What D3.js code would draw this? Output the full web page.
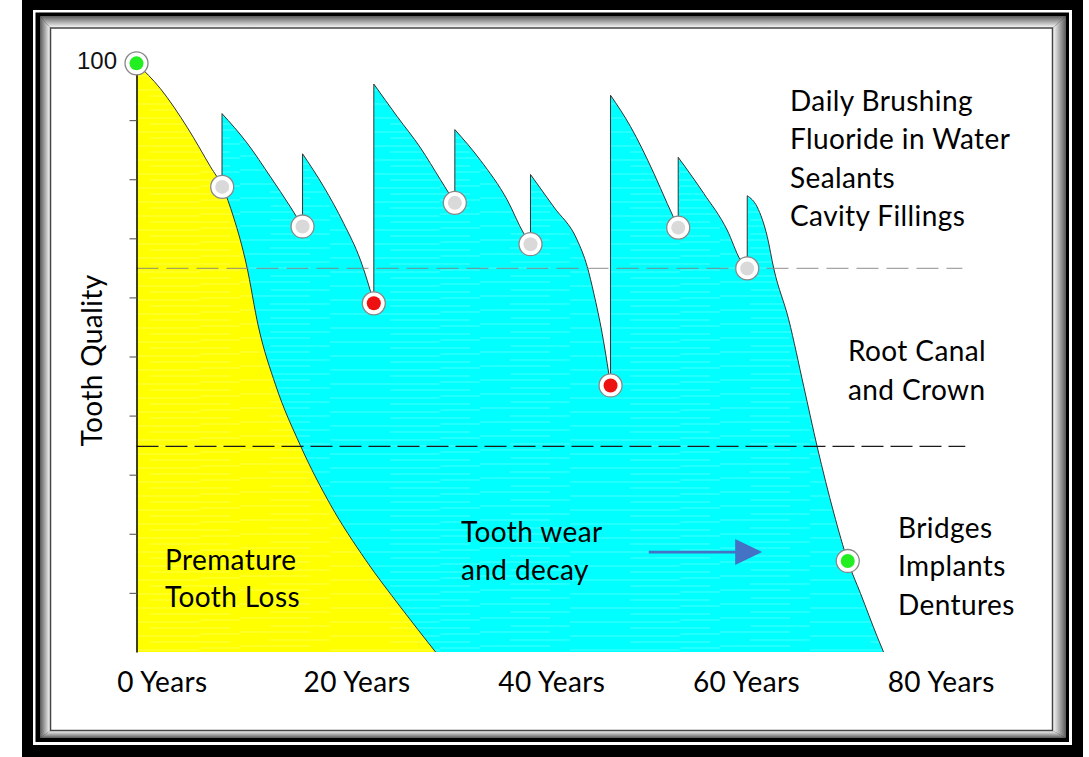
<!DOCTYPE html>
<html><head><meta charset="utf-8">
<script src="https://cdn.jsdelivr.net/npm/d3@7"></script>
<style>html,body{margin:0;padding:0;background:#fff;}svg{display:block;}</style>
</head><body>
<svg id="c" width="1089" height="757"></svg>
<script>
// ---------- data ----------
const yearTicks = [0, 20, 40, 60, 80];
const yearLabels = ["0 Years", "20 Years", "40 Years", "60 Years", "80 Years"];
const qualityTicks = [10, 20, 30, 40, 50, 60, 70, 80, 90, 100];

// premature tooth loss curve (yellow)
const lossYears   = [0, 2.46, 5.23, 7.59, 8.82, 9.95, 11.28, 12.51, 14.26, 16.82, 19.9, 23.49, 27.08, 30.67];
const lossQuality = [99.6, 95.3, 88.7, 82.1, 78.7, 73.6, 65.5, 55.0, 45.2, 34.9, 24.9, 15.6, 7.6, 0];

// tooth wear and decay (cyan) - each tooth: from restored top down to next treatment
const teethYears = [
  [8.77, 11.35, 13.74, 15.79, 17.03],
  [17.03, 19.21, 21.26, 22.97, 23.66, 24.34],
  [24.34, 26.74, 29.13, 31.18, 32.65],
  [32.65, 35.28, 38.02, 39.72, 40.41],
  [40.41, 42.8, 45.2, 46.23, 46.9, 47.76, 48.28, 48.62],
  [48.62, 50.67, 53.06, 54.43, 55.56],
  [55.56, 58.18, 60.58, 61.95, 62.64],
  [62.64, 63.66, 64.69, 65.36, 66.9, 68.44, 69.82, 71.52, 72.95, 74.26, 75.97, 76.62]
];
const teethQuality = [
  [91.1, 86.1, 80.4, 75.3, 72.0],
  [84.3, 78.7, 72.5, 66.3, 62.9, 59.0],
  [96.1, 90.6, 85.3, 79.9, 76.0],
  [88.4, 83.2, 76.5, 70.8, 69.0],
  [80.8, 75.3, 69.7, 65.2, 60.7, 53.9, 48.8, 45.1],
  [94.2, 88.9, 81.0, 75.9, 71.8],
  [83.7, 77.6, 71.4, 66.3, 64.9],
  [77.2, 75.3, 70.3, 64.9, 56.2, 44.9, 34.7, 23.5, 15.4, 9.9, 2.6, 0]
];

// event markers
const markerYears   = [0, 8.79, 17.03, 24.34, 32.65, 40.41, 48.62, 55.56, 62.64, 72.95];
const markerQuality = [99.6, 78.7, 72.0, 59.0, 76.0, 69.0, 45.1, 71.8, 64.9, 15.4];
const markerKinds   = ["good", "check", "check", "treat", "check", "check", "treat", "check", "check", "good"];

// thresholds (dashed lines)
const fillingThreshold = 64.9;
const crownThreshold = 34.8;
const thresholdEndYear = [84.7, 85.0];

// arrow (years, quality)
const arrowYears = [52.54, 64.17];
const arrowQuality = 16.9;

const textTreatments = ["Daily Brushing", "Fluoride in Water", "Sealants", "Cavity Fillings"];
const textCrown = ["Root Canal", "and Crown"];
const textReplace = ["Bridges", "Implants", "Dentures"];
const textLoss = ["Premature", "Tooth Loss"];
const textWear = ["Tooth wear", "and decay"];

// ---------- drawing ----------
const svg = d3.select("#c");
const FONT = "Lato, 'Open Sans', sans-serif";
const FS = 28, LS = 0.4;

// frame
const defs = svg.append("defs");
function grad(id, x1, y1, x2, y2, c1, c2) {
  const g = defs.append("linearGradient").attr("id", id)
    .attr("x1", x1).attr("y1", y1).attr("x2", x2).attr("y2", y2);
  g.append("stop").attr("offset", "0%").attr("stop-color", c1);
  g.append("stop").attr("offset", "100%").attr("stop-color", c2);
}
grad("gTop", 0, 0, 0, 1, "#5a5a5a", "#ffffff");
grad("gLeft", 0, 0, 1, 0, "#5a5a5a", "#ffffff");
grad("gRight", 0, 0, 1, 0, "#ffffff", "#5a5a5a");
grad("gBot", 0, 0, 0, 1, "#ffffff", "#5a5a5a");

svg.append("rect").attr("x", 22).attr("y", -10).attr("width", 1061).attr("height", 780).attr("fill", "#000");
svg.append("rect").attr("x", 33).attr("y", 10).attr("width", 1039).attr("height", 735).attr("fill", "#fff");
svg.append("rect").attr("x", 35.5).attr("y", 12.5).attr("width", 1033.5).attr("height", 729.5).attr("fill", "#000");
const O = {l: 40, t: 16, r: 1066, b: 738}, I = {l: 50.5, t: 28, r: 1052.5, b: 730.5};
svg.append("polygon").attr("points", `${O.l},${O.t} ${O.r},${O.t} ${I.r},${I.t} ${I.l},${I.t}`).attr("fill", "url(#gTop)");
svg.append("polygon").attr("points", `${O.l},${O.t} ${I.l},${I.t} ${I.l},${I.b} ${O.l},${O.b}`).attr("fill", "url(#gLeft)");
svg.append("polygon").attr("points", `${O.r},${O.t} ${O.r},${O.b} ${I.r},${I.b} ${I.r},${I.t}`).attr("fill", "url(#gRight)");
svg.append("polygon").attr("points", `${O.l},${O.b} ${O.r},${O.b} ${I.r},${I.b} ${I.l},${I.b}`).attr("fill", "url(#gBot)");
svg.append("rect").attr("x", I.l).attr("y", I.t).attr("width", I.r - I.l).attr("height", I.b - I.t)
  .attr("fill", "#fff").attr("stroke", "#444").attr("stroke-width", 1.5);

// scales
const x = d3.scaleLinear().domain([0, 80]).range([136.5, 916.5]);
const y = d3.scaleLinear().domain([0, 100]).range([652, 61]);
const xLabel = d3.scaleLinear().domain([0, 80]).range([162.4, 941.2]);

// texture pattern
const pat = defs.append("pattern").attr("id", "streak").attr("patternUnits", "userSpaceOnUse")
  .attr("width", 240).attr("height", 14);
[[0, 2, 70], [90, 6, 110], [30, 10, 60], [150, 12, 80], [200, 4, 40]].forEach(s => {
  pat.append("line").attr("x1", s[0]).attr("x2", s[0] + s[2]).attr("y1", s[1]).attr("y2", s[1])
    .attr("stroke", "#fff").attr("stroke-opacity", 0.28).attr("stroke-width", 1);
});

const line = d3.line().x(d => x(d[0])).y(d => y(d[1])).curve(d3.curveMonotoneX);

// cyan area
let cyanPath = `M${x(teethYears[0][0])},${y(0)}`;
teethYears.forEach((ys, i) => {
  const pts = ys.map((v, j) => [v, teethQuality[i][j]]);
  cyanPath += line(pts).replace(/^M/, "L");
});
svg.append("path").attr("d", cyanPath + "Z").attr("fill", "#00ffff");
svg.append("path").attr("d", cyanPath + "Z").attr("fill", "url(#streak)");
svg.append("path").attr("d", cyanPath).attr("fill", "none").attr("stroke", "#333").attr("stroke-width", 1);

// yellow area
const lossPts = lossYears.map((v, i) => [v, lossQuality[i]]);
const area = d3.area().x(d => x(d[0])).y0(y(0)).y1(d => y(d[1])).curve(d3.curveMonotoneX);
svg.append("path").attr("d", area(lossPts)).attr("fill", "#ffff00");
svg.append("path").attr("d", area(lossPts)).attr("fill", "url(#streak)");
svg.append("path").attr("d", line(lossPts)).attr("fill", "none").attr("stroke", "#333").attr("stroke-width", 1);

// dashed thresholds
svg.append("line").attr("x1", x(0)).attr("x2", x(thresholdEndYear[0]))
  .attr("y1", y(fillingThreshold)).attr("y2", y(fillingThreshold))
  .attr("stroke", "#7f7f7f").attr("stroke-opacity", 0.7).attr("stroke-width", 1.3).attr("stroke-dasharray", "22,8");
svg.append("line").attr("x1", x(0)).attr("x2", x(thresholdEndYear[1]))
  .attr("y1", y(crownThreshold)).attr("y2", y(crownThreshold))
  .attr("stroke", "#1a1a1a").attr("stroke-width", 1.2).attr("stroke-dasharray", "22,7");

// y axis
const yAxis = d3.axisLeft(y).tickValues(qualityTicks).tickSize(7).tickFormat("").tickSizeOuter(0);
const ax = svg.append("g").attr("transform", `translate(${x(0)},0)`).call(yAxis);
ax.select(".domain").attr("stroke", "#000").attr("stroke-width", 1.5);
ax.selectAll(".tick line").attr("stroke", "#666").attr("stroke-width", 1.2);
svg.append("text").attr("x", 117).attr("y", y(100) + 8).attr("text-anchor", "end")
  .attr("font-family", "'Liberation Sans', Arial, sans-serif").attr("font-size", 24).attr("fill", "#111").text("100");

// markers
const fills = {good: "#22ee22", check: "#d9d9d9", treat: "#ee1111"};
markerYears.forEach((v, i) => {
  const g = svg.append("g").attr("transform", `translate(${x(v)},${y(markerQuality[i])})`);
  g.append("circle").attr("r", 11.5).attr("fill", "#fff").attr("stroke", "#888").attr("stroke-width", 1.3);
  g.append("circle").attr("r", 7).attr("fill", fills[markerKinds[i]]);
});

// arrow
const ay = y(arrowQuality);
svg.append("line").attr("x1", x(arrowYears[0])).attr("x2", x(arrowYears[1]) - 26)
  .attr("y1", ay).attr("y2", ay).attr("stroke", "#4472c4").attr("stroke-width", 2.6);
svg.append("polygon").attr("points",
  `${x(arrowYears[1])},${ay} ${x(arrowYears[1]) - 27},${ay - 13} ${x(arrowYears[1]) - 27},${ay + 13}`)
  .attr("fill", "#4472c4");

// x labels
yearTicks.forEach((t, i) => {
  svg.append("text").attr("x", xLabel(t)).attr("y", 692).attr("text-anchor", "middle")
    .attr("font-family", FONT).attr("font-size", FS).attr("letter-spacing", LS).attr("fill", "#000").text(yearLabels[i]);
});

// y title
svg.append("text").attr("transform", "translate(102,360.5) rotate(-90)").attr("text-anchor", "middle")
  .attr("font-family", FONT).attr("font-size", FS).attr("letter-spacing", LS).attr("fill", "#000").text("Tooth Quality");

function block(lines, x0, y0, dy) {
  lines.forEach((s, i) => svg.append("text").attr("x", x0).attr("y", y0 + i * dy)
    .attr("font-family", FONT).attr("font-size", FS).attr("letter-spacing", LS).attr("fill", "#000").text(s));
}
block(textTreatments, 790, 110.7, 38.5);
block(textCrown, 848, 361, 38.5);
block(textReplace, 898, 537.5, 38.7);
block(textLoss, 165, 570, 37);
block(textWear, 461, 541.5, 38.5);
</script>
</body></html>
